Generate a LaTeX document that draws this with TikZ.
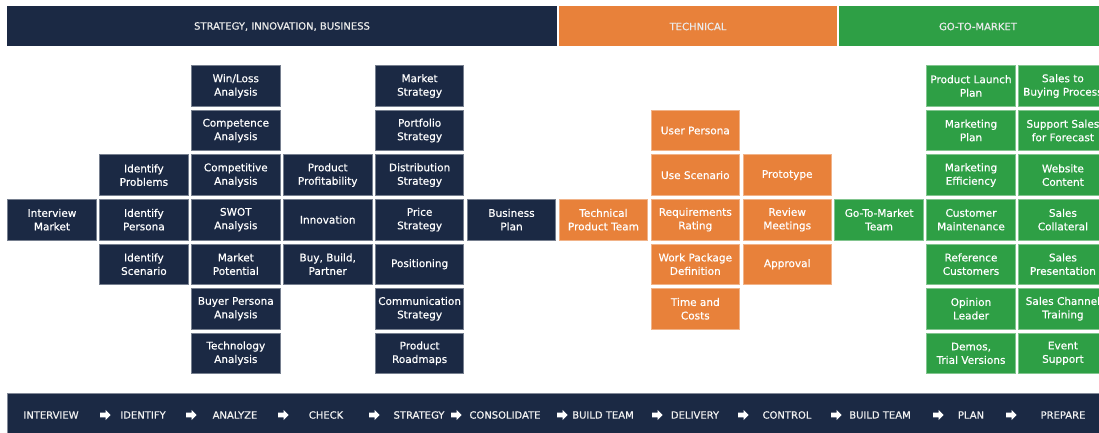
\documentclass[tikz,border=0pt]{standalone}
\usepackage{fontspec}
\setmainfont{DejaVu Sans}
\newfontfamily\boxfont[FakeBold=0.5]{DejaVu Sans}
\definecolor{navy}{HTML}{1B2944}
\definecolor{orng}{HTML}{E8813A}
\definecolor{grn}{HTML}{2E9F45}
\tikzset{
  box/.style={minimum width=88.5pt, minimum height=40.5pt, inner sep=0pt, align=center,
    text=white, font=\boxfont\fontsize{10.5}{13.5}\selectfont, line width=0.8pt},
  nb/.style={box, fill=navy, draw=navy!60!white},
  ob/.style={box, fill=orng, draw=orng!60!white},
  gb/.style={box, fill=grn, draw=grn!60!white},
  hdr/.style={inner sep=0pt, text=white!92!black, font=\boxfont\fontsize{10}{12}\selectfont},
  steplbl/.style={inner sep=0pt, text=white!95!black, font=\boxfont\fontsize{10}{12}\selectfont},
  warrow/.pic={\fill[white] (-5,-2.3) -- (0.5,-2.3) -- (0.5,-5.2) -- (5.5,0) -- (0.5,5.2) -- (0.5,2.3) -- (-5,2.3) -- cycle;}
}
\begin{document}
\begin{tikzpicture}[x=1pt,y=-1pt]
\useasboundingbox (0,0) rectangle (1099,433);
% headers
\fill[navy] (7,6) rectangle (557,46.5);
\fill[orng] (559,6) rectangle (837,46.5);
\fill[grn] (838.5,6) rectangle (1118,46.5);
\node[hdr] (h1) at (282,26.5) {STRATEGY, INNOVATION, BUSINESS};
\node[hdr] (h2) at (698,26.5) {TECHNICAL};
\node[hdr] (h3) at (978,26.5) {GO-TO-MARKET};
% column 1
\node[nb] (interview) at (52,219.65) {Interview\\Market};
% column 2
\node[nb] (idprob) at (143.9,175.1) {Identify\\Problems};
\node[nb] (idpers) at (143.9,219.65) {Identify\\Persona};
\node[nb] (idscen) at (143.9,264.2) {Identify\\Scenario};
% column 3
\node[nb] (winloss) at (235.8,86) {Win/Loss\\Analysis};
\node[nb] (compet) at (235.8,130.55) {Competence\\Analysis};
\node[nb] (competitive) at (235.8,175.1) {Competitive\\Analysis};
\node[nb] (swot) at (235.8,219.65) {SWOT\\Analysis};
\node[nb] (mpot) at (235.8,264.2) {Market\\Potential};
\node[nb] (buyer) at (235.8,308.75) {Buyer Persona\\Analysis};
\node[nb] (tech) at (235.8,353.3) {Technology\\Analysis};
% column 4
\node[nb] (profit) at (327.7,175.1) {Product\\Profitability};
\node[nb] (innov) at (327.7,219.65) {Innovation};
\node[nb] (bbp) at (327.7,264.2) {Buy, Build,\\Partner};
% column 5
\node[nb] (mstrat) at (419.6,86) {Market\\Strategy};
\node[nb] (pstrat) at (419.6,130.55) {Portfolio\\Strategy};
\node[nb] (dstrat) at (419.6,175.1) {Distribution\\Strategy};
\node[nb] (prstrat) at (419.6,219.65) {Price\\Strategy};
\node[nb] (posit) at (419.6,264.2) {Positioning};
\node[nb] (comm) at (419.6,308.75) {Communication\\Strategy};
\node[nb] (roadmap) at (419.6,353.3) {Product\\Roadmaps};
% column 6
\node[nb] (bplan) at (511.5,219.65) {Business\\Plan};
% column 7
\node[ob] (techteam) at (603.4,219.65) {Technical\\Product Team};
% column 8
\node[ob] (userp) at (695.3,130.55) {User Persona};
\node[ob] (usesc) at (695.3,175.1) {Use Scenario};
\node[ob] (reqr) at (695.3,219.65) {Requirements\\Rating};
\node[ob] (wpd) at (695.3,264.2) {Work Package\\Definition};
\node[ob] (timec) at (695.3,308.75) {Time and\\Costs};
% column 9
\node[ob] (proto) at (787.2,175.1) {Prototype};
\node[ob] (review) at (787.2,219.65) {Review\\Meetings};
\node[ob] (approval) at (787.2,264.2) {Approval};
% column 10
\node[gb] (gtmteam) at (879.1,219.65) {Go-To-Market\\Team};
% column 11
\node[gb] (launch) at (971,86) {Product Launch\\Plan};
\node[gb] (mplan) at (971,130.55) {Marketing\\Plan};
\node[gb] (meff) at (971,175.1) {Marketing\\Efficiency};
\node[gb] (custm) at (971,219.65) {Customer\\Maintenance};
\node[gb] (refc) at (971,264.2) {Reference\\Customers};
\node[gb] (opin) at (971,308.75) {Opinion\\Leader};
\node[gb] (demos) at (971,353.3) {Demos,\\Trial Versions};
% column 12
\node[gb] (salesbuy) at (1062.9,86) {Sales to\\Buying Process};
\node[gb] (supsales) at (1062.9,130.55) {Support Sales\\for Forecast};
\node[gb] (website) at (1062.9,175.1) {Website\\Content};
\node[gb] (scoll) at (1062.9,219.65) {Sales\\Collateral};
\node[gb] (spres) at (1062.9,264.2) {Sales\\Presentation};
\node[gb] (schan) at (1062.9,308.75) {Sales Channel\\Training};
\node[gb] (event) at (1062.9,353.3) {Event\\Support};
% bottom bar
\fill[navy] (7,393) rectangle (1110,440);
\draw[navy!55!white, line width=0.6pt] (7,440) -- (7,393) -- (1110,393);
\node[steplbl] (s1) at (51,415) {INTERVIEW};
\node[steplbl] (s2) at (143,415) {IDENTIFY};
\node[steplbl] (s3) at (235,415) {ANALYZE};
\node[steplbl] (s4) at (326,415) {CHECK};
\node[steplbl] (s5) at (419,415) {STRATEGY};
\node[steplbl] (s6) at (505,415) {CONSOLIDATE};
\node[steplbl] (s7) at (603,415) {BUILD TEAM};
\node[steplbl] (s8) at (695,415) {DELIVERY};
\node[steplbl] (s9) at (787,415) {CONTROL};
\node[steplbl] (s10) at (880,415) {BUILD TEAM};
\node[steplbl] (s11) at (971,415) {PLAN};
\node[steplbl] (s12) at (1063,415) {PREPARE};
\foreach \ax in {105,191,283,374,456,562,657,743,836,938,1011}
  \pic at (\ax,415) {warrow};
\end{tikzpicture}
\end{document}
